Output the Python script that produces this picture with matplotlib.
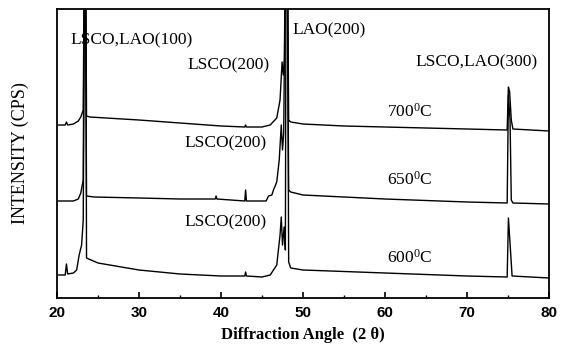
import matplotlib
matplotlib.use("Agg")
import matplotlib.pyplot as plt
from matplotlib.ticker import MultipleLocator

plt.rcParams['mathtext.fontset'] = 'custom'
plt.rcParams['mathtext.rm'] = 'Liberation Serif'
plt.rcParams['mathtext.it'] = 'Liberation Serif'

# ---- data (2theta in degrees, intensity in arbitrary units) ----
x700 = [20.2, 21.0, 21.15, 21.3, 22.0, 22.6, 22.9, 23.2, 23.38, 23.46, 23.6, 24.0, 26, 30, 35, 40,
        42.9, 43.0, 43.1, 45, 46, 46.8, 47.2, 47.45, 47.6, 47.75, 47.92, 48.06, 48.25, 48.5, 50, 55,
        60, 70, 74.9, 75.05, 75.2, 75.4, 75.6, 80]
y700 = [173, 173, 176, 173, 174, 177, 181, 188, 400, 400, 182, 181, 180, 178, 175, 172,
        171, 173, 171, 171, 173, 180, 198, 236, 223, 240, 400, 400, 178, 176, 174, 172,
        171, 169, 168, 211, 206, 178, 169, 167]

x650 = [20.2, 22.0, 22.6, 22.9, 23.2, 23.36, 23.44, 23.6, 24.5, 30, 35, 39.3, 39.4, 39.5,
        42.9, 43.0, 43.1, 45.5, 45.8, 46.2, 46.4, 46.8, 47.1, 47.35, 47.5, 47.65, 47.9, 48.04,
        48.25, 48.5, 50, 60, 70, 74.9, 75.05, 75.25, 75.4, 75.6, 80]
y650 = [97, 97, 99, 105, 118, 400, 400, 102, 101, 100, 99, 99, 102, 99,
        97, 108, 97, 97, 102, 103, 108, 116, 138, 173, 148, 165, 400, 400,
        108, 106, 103, 99, 96, 95, 203, 178, 98, 95, 94]

x600 = [20.2, 21.0, 21.15, 21.3, 22.0, 22.4, 22.7, 23.0, 23.2, 23.4, 23.48, 23.6, 25, 30, 35,
        40, 42.9, 43.0, 43.1, 45, 46, 46.8, 47.2, 47.35, 47.5, 47.7, 47.85, 47.95, 48.08, 48.25,
        48.5, 50, 60, 70, 74.9, 75.05, 75.3, 75.5, 80]
y600 = [23, 23, 34, 24, 25, 28, 43, 53, 78, 400, 400, 40, 35, 28, 24,
        22, 22, 26, 22, 21, 23, 33, 63, 81, 53, 71, 48, 400, 400, 36,
        30, 28, 25, 22, 21, 80, 48, 22, 20]

xticks = [20, 30, 40, 50, 60, 70, 80]

peak_labels = ["LSCO,LAO(100)", "LSCO(200)", "LSCO(200)", "LSCO(200)", "LAO(200)", "LSCO,LAO(300)"]
peak_label_pos = [(29.1, 258), (40.9, 233), (40.5, 155), (40.5, 76), (53.2, 268), (71.2, 236)]
temp_labels = ["700$^{0}$C", "650$^{0}$C", "600$^{0}$C"]
temp_label_pos = [(63.0, 186), (63.0, 118), (63.0, 40)]

# ---- figure ----
fig = plt.figure(figsize=(5.66, 3.5), dpi=100)
ax = fig.add_axes([57 / 566, 52 / 350, 492 / 566, 289 / 350])

lw = 1.0
ax.plot(x700, y700, color='black', lw=lw)
ax.plot(x650, y650, color='black', lw=lw)
ax.plot(x600, y600, color='black', lw=lw)

ax.set_xlim(20, 80)
ax.set_ylim(0, 289)
ax.set_yticks([])
ax.xaxis.set_minor_locator(MultipleLocator(5))
ax.set_xticks(xticks)
ax.tick_params(axis='x', which='major', direction='in', length=4, width=1.2, pad=6)
ax.tick_params(axis='x', which='minor', direction='in', length=2, width=1.0)
for lab in ax.get_xticklabels():
    lab.set_fontfamily('Liberation Sans')
    lab.set_fontweight('bold')
    lab.set_fontsize(11)
for s in ax.spines.values():
    s.set_linewidth(1.3)

serif = 'Liberation Serif'
for txt, (px, py) in zip(peak_labels, peak_label_pos):
    ax.text(px, py, txt, fontsize=12.5, family=serif, ha='center', va='center')
for txt, (px, py) in zip(temp_labels, temp_label_pos):
    ax.text(px, py, txt, fontsize=12.5, family=serif, ha='center', va='center')

ax.set_xlabel("Diffraction Angle  (2 θ)", family=serif, fontweight='bold', fontsize=12, labelpad=5)
ax.set_ylabel("INTENSITY (CPS)", family=serif, fontsize=13, labelpad=20)

fig.savefig("out.png", dpi=100)
